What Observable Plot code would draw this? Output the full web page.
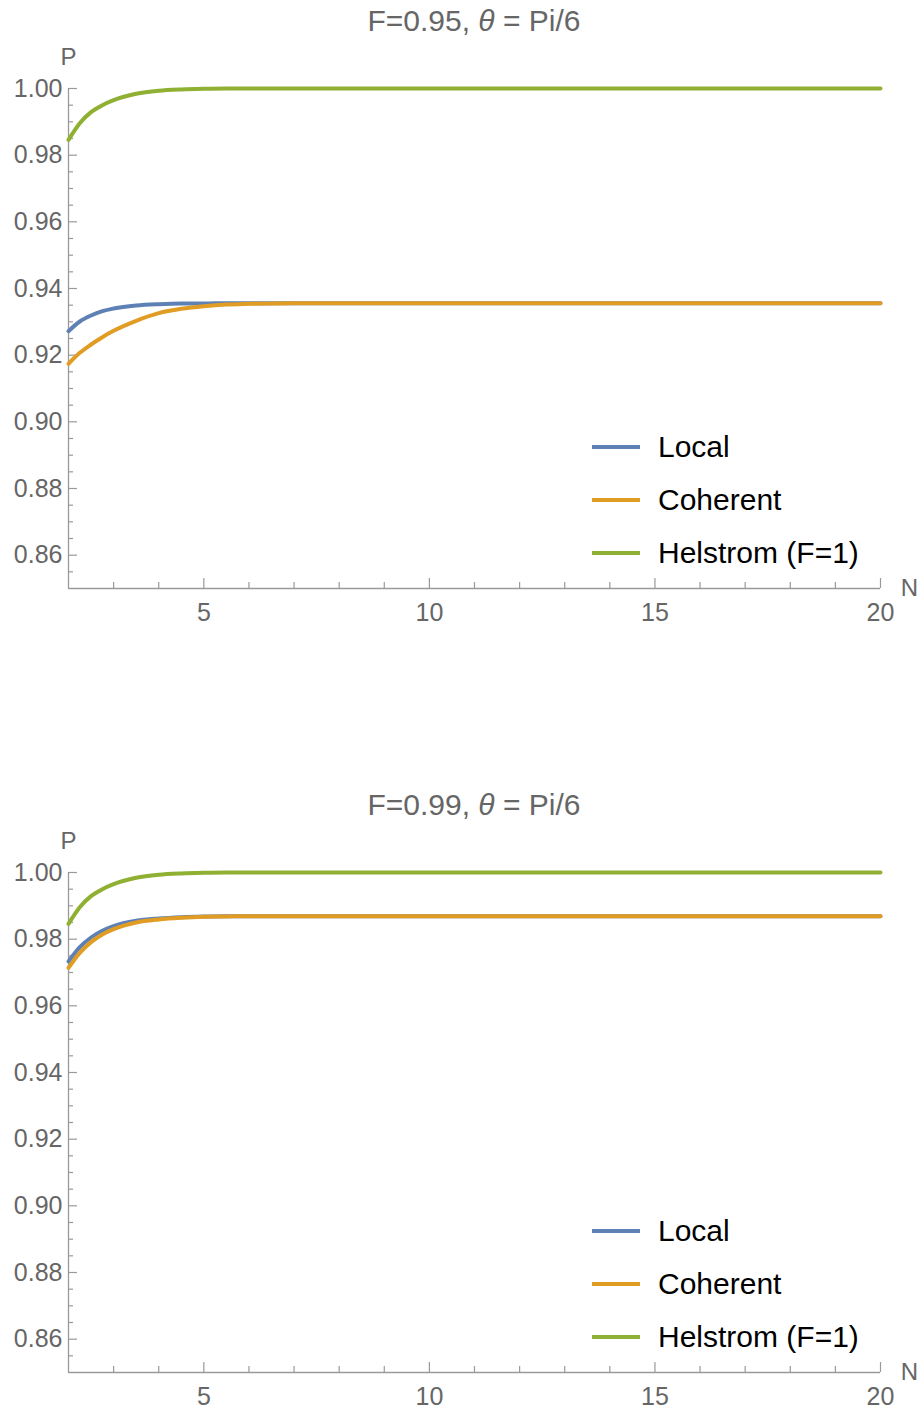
<!DOCTYPE html>
<html>
<head>
<meta charset="utf-8">
<script src="https://cdn.jsdelivr.net/npm/d3@7"></script>
<script src="https://cdn.jsdelivr.net/npm/@observablehq/plot@0.6"></script>
<style>
  html, body { margin: 0; padding: 0; background: #fff; }
  body { width: 921px; height: 1412px; overflow: hidden; font-family: "Liberation Sans", Arial, sans-serif; }
  .panel { position: relative; width: 921px; }
  .title { height: 40px; line-height: 42px; padding-left: 68px; width: 812px; text-align: center; font-size: 30px; color: #666; white-space: nowrap; }
  .legend { position: absolute; left: 592px; }
  .legend .row { position: absolute; left: 0; height: 40px; width: 320px; }
  .legend .sw { position: absolute; left: 0; width: 48px; height: 3.5px; }
  .legend .lab { position: absolute; left: 66px; font-size: 30px; color: #000; white-space: nowrap; }
  svg { display: block; }
</style>
</head>
<body>
<div id="root"></div>
<script>
// ---- data ----
const N = [2, 2.25, 2.5, 2.75, 3, 3.5, 4, 4.5, 5, 5.5, 6, 7, 8, 10, 12, 14, 16, 18, 20];

// Panel 1: F = 0.95
const local095    = [0.9272, 0.9301, 0.9319, 0.9332, 0.9340, 0.9349, 0.9353, 0.9355, 0.9355, 0.9356, 0.9356, 0.9356, 0.9356, 0.9356, 0.9356, 0.9356, 0.9356, 0.9356, 0.9356];
const coherent095 = [0.9174, 0.9207, 0.9232, 0.9254, 0.9273, 0.9303, 0.9326, 0.9339, 0.9347, 0.9352, 0.9354, 0.9356, 0.9356, 0.9356, 0.9356, 0.9356, 0.9356, 0.9356, 0.9356];
// Panel 2: F = 0.99
const local099    = [0.9733, 0.9776, 0.9805, 0.9825, 0.9839, 0.9855, 0.9862, 0.9866, 0.9868, 0.9869, 0.9869, 0.9869, 0.9869, 0.9869, 0.9869, 0.9869, 0.9869, 0.9869, 0.9869];
const coherent099 = [0.9714, 0.9759, 0.9791, 0.9814, 0.9830, 0.9850, 0.9859, 0.9864, 0.9867, 0.9868, 0.9869, 0.9869, 0.9869, 0.9869, 0.9869, 0.9869, 0.9869, 0.9869, 0.9869];
// Helstrom (F=1), same in both panels
const helstrom    = [0.9846, 0.9896, 0.9929, 0.9950, 0.9965, 0.9984, 0.9993, 0.9997, 0.9999, 1.0000, 1.0000, 1.0000, 1.0000, 1.0000, 1.0000, 1.0000, 1.0000, 1.0000, 1.0000];

const seriesNames = ["Local", "Coherent", "Helstrom (F=1)"];
const seriesColors = ["#5E81B5", "#E19C24", "#8FB032"];
const titles = ["F=0.95, ", "F=0.99, "];

const xMajor = [5, 10, 15, 20];
const xMinor = [3, 4, 6, 7, 8, 9, 11, 12, 13, 14, 16, 17, 18, 19];
const yMajor = [0.86, 0.88, 0.90, 0.92, 0.94, 0.96, 0.98, 1.00];
const yMinor = [0.855, 0.865, 0.87, 0.875, 0.885, 0.89, 0.895, 0.905, 0.91, 0.915, 0.925, 0.93, 0.935, 0.945, 0.95, 0.955, 0.965, 0.97, 0.975, 0.985, 0.99, 0.995];

// ---- drawing ----
const axisColor = "#9a9a9a";
const textColor = "#666";
const PH = 500; // plot-area height
const PW = 812; // plot-area width

function makeTable(vals) {
  return N.map((n, i) => ({N: n, P: vals[i]}));
}

function panel(titleText, seriesVals, svgHeight) {
  const div = document.createElement("div");
  div.className = "panel";
  const t = document.createElement("div");
  t.className = "title";
  t.innerHTML = titleText + "<i>θ</i> = Pi/6";
  div.appendChild(t);

  const lineMarks = seriesVals.map((vals, i) =>
    Plot.line(makeTable(vals), {x: "N", y: "P", stroke: seriesColors[i], strokeWidth: 4, curve: "monotone-x"})
  );

  const chart = Plot.plot({
    width: 921,
    height: svgHeight,
    marginTop: 48,
    marginLeft: 68,
    marginRight: 41,
    marginBottom: svgHeight - 48 - PH,
    style: {fontFamily: "'Liberation Sans', Arial, sans-serif", background: "white", overflow: "visible"},
    x: {domain: [2, 20]},
    y: {domain: [0.85, 1.0]},
    marks: [
      Plot.axisX({ticks: xMajor, tickSize: 0, tickPadding: 15, fontSize: 25, color: textColor, label: null, tickFormat: d => String(d)}),
      Plot.axisY({ticks: yMajor, tickSize: 0, tickPadding: 6, fontSize: 25, color: textColor, label: null, tickFormat: d3.format(".2f")}),
      Plot.ruleX([2], {stroke: axisColor, strokeWidth: 1.3}),
      Plot.ruleY([0.85], {stroke: axisColor, strokeWidth: 1.3}),
      Plot.tickX(xMajor, {x: d => d, insetTop: PH - 10, stroke: axisColor, strokeWidth: 1.2}),
      Plot.tickX(xMinor, {x: d => d, insetTop: PH - 6, stroke: axisColor, strokeWidth: 1.2}),
      Plot.tickY(yMajor, {y: d => d, insetRight: PW - 9, stroke: axisColor, strokeWidth: 1.2}),
      Plot.tickY(yMinor, {y: d => d, insetRight: PW - 5, stroke: axisColor, strokeWidth: 1.2}),
      Plot.text(["P"], {frameAnchor: "top-left", dx: 0, dy: -31, fontSize: 24, fill: textColor, textAnchor: "middle", lineAnchor: "middle"}),
      Plot.text(["N"], {frameAnchor: "bottom-right", dx: 29, dy: 0, fontSize: 24, fill: textColor, textAnchor: "middle", lineAnchor: "middle"}),
      ...lineMarks
    ]
  });
  div.appendChild(chart);

  const leg = document.createElement("div");
  leg.className = "legend";
  leg.style.top = "447px";
  seriesNames.forEach((name, i) => {
    const row = document.createElement("div");
    row.className = "row";
    row.style.top = (i * 53 - 20) + "px";
    const sw = document.createElement("div");
    sw.className = "sw";
    sw.style.background = seriesColors[i];
    sw.style.top = "18.25px";
    const lab = document.createElement("div");
    lab.className = "lab";
    lab.style.top = "2px";
    lab.style.lineHeight = "36px";
    lab.textContent = name;
    row.appendChild(sw);
    row.appendChild(lab);
    leg.appendChild(row);
  });
  div.appendChild(leg);
  return div;
}

const root = document.getElementById("root");
root.appendChild(panel(titles[0], [local095, coherent095, helstrom], 744));
root.appendChild(panel(titles[1], [local099, coherent099, helstrom], 588));
</script>
</body>
</html>
